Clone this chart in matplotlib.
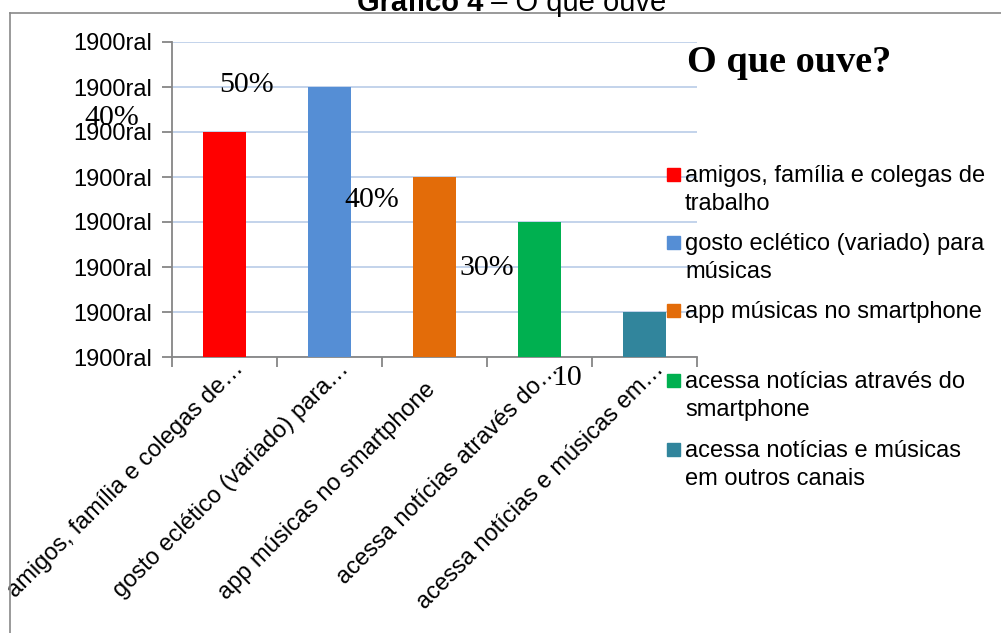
import matplotlib
matplotlib.use("Agg")
import matplotlib.pyplot as plt
import matplotlib.transforms as mtransforms
from matplotlib.patches import Rectangle
from matplotlib.lines import Line2D

# data
categories = ["amigos, família e colegas de…",
              "gosto eclético (variado) para…",
              "app músicas no smartphone",
              "acessa notícias através do…",
              "acessa notícias e músicas em…"]
legend_labels = ["amigos, família e colegas de\ntrabalho",
                 "gosto eclético (variado) para\nmúsicas",
                 "app músicas no smartphone",
                 "acessa notícias através do\nsmartphone",
                 "acessa notícias e músicas\nem outros canais"]
values = [50, 60, 40, 30, 10]
colors = ["#FF0000", "#558ED5", "#E36C09", "#00B050", "#31859C"]
y_ticks = [0, 10, 20, 30, 40, 50, 60, 70]
y_tick_labels = ["1900ral"] * 8
# data labels as they appear in the chart (misplaced in the original)
label_texts = ["40%", "50%", "40%", "30%", "10"]
label_x = [-1.07, 0.205, 1.40, 2.50, 3.26]
label_y = [51.6, 58.9, 33.3, 18.2, -6.2]

# pixel offsets of each rotated category label's end (right, down)
cat_dx = [20, 20, 1.5, 20, 20]
cat_dy = [13, 13, 34, 13, 13]

W, H = 1001, 633
plt.rcParams['font.family'] = ['Liberation Sans', 'DejaVu Sans']
fig = plt.figure(figsize=(W / 100, H / 100), dpi=100)


def fx(px):
    return px / W


def fy(py):
    return 1 - py / H


# outer frame (only top and left visible)
fig.add_artist(Line2D([fx(9.5), fx(9.5)], [fy(13), 0], color="#898989", lw=1.2))
fig.add_artist(Line2D([fx(9.5), 1], [fy(13), fy(13)], color="#898989", lw=1.2))

# title, cut at the top
fig.text(fx(483), fy(11), "Gráfico 4", fontsize=21, fontweight="bold",
         ha="right", va="baseline")
fig.text(fx(483), fy(11), " – O que ouve", fontsize=21, ha="left", va="baseline")

ax = fig.add_axes([fx(172), fy(357), fx(697) - fx(172), fy(42) - fy(357)])
x = list(range(len(values)))
ax.bar(x, values, width=0.41, color=colors, zorder=3)
ax.set_xlim(-0.5, 4.5)
ax.set_ylim(0, 70)

ax.set_yticks(y_ticks)
ax.set_yticklabels(y_tick_labels, fontsize=17)
ax.yaxis.grid(True, color="#B9CCE8", lw=1.2, zorder=0)
ax.tick_params(axis="y", length=7, width=1.3, color="#868686", pad=7)

ax.set_xticks(x)
ax.set_xticklabels(categories, fontsize=17)
ax.set_xticks([i - 0.5 for i in range(len(values) + 1)], minor=True)
ax.tick_params(axis="x", which="major", length=0, pad=0)
ax.tick_params(axis="x", which="minor", length=7, width=1.3, color="#868686")
for lab, dx, dy in zip(ax.get_xticklabels(), cat_dx, cat_dy):
    lab.set_rotation(45)
    lab.set_ha("right")
    lab.set_va("baseline")
    lab.set_rotation_mode("anchor")
    off = mtransforms.ScaledTranslation(dx / 100, -dy / 100, fig.dpi_scale_trans)
    lab.set_transform(lab.get_transform() + off)

for side in ["top", "right"]:
    ax.spines[side].set_visible(False)
for side in ["left", "bottom"]:
    ax.spines[side].set_color("#868686")
    ax.spines[side].set_linewidth(1.3)

for t, lx, ly in zip(label_texts, label_x, label_y):
    ax.text(lx, ly, t, fontsize=21.5, family="Liberation Serif",
            ha="center", va="baseline", clip_on=False, zorder=4)

# chart heading
fig.text(fx(687), fy(72), "O que ouve?", fontsize=27.5, fontweight="bold",
         family="Liberation Serif", ha="left", va="baseline")

# legend drawn by hand to keep the Excel layout
baselines = [182, 250, 318, 388, 457]
for lab, c, b in zip(legend_labels, colors, baselines):
    fig.add_artist(Rectangle((fx(667), fy(b - 1)), fx(13), 13 / H,
                             color=c, transform=fig.transFigure))
    for k, line in enumerate(lab.split("\n")):
        fig.text(fx(685), fy(b + 28 * k), line, fontsize=17,
                 ha="left", va="baseline")

fig.savefig("out.png", dpi=100)
